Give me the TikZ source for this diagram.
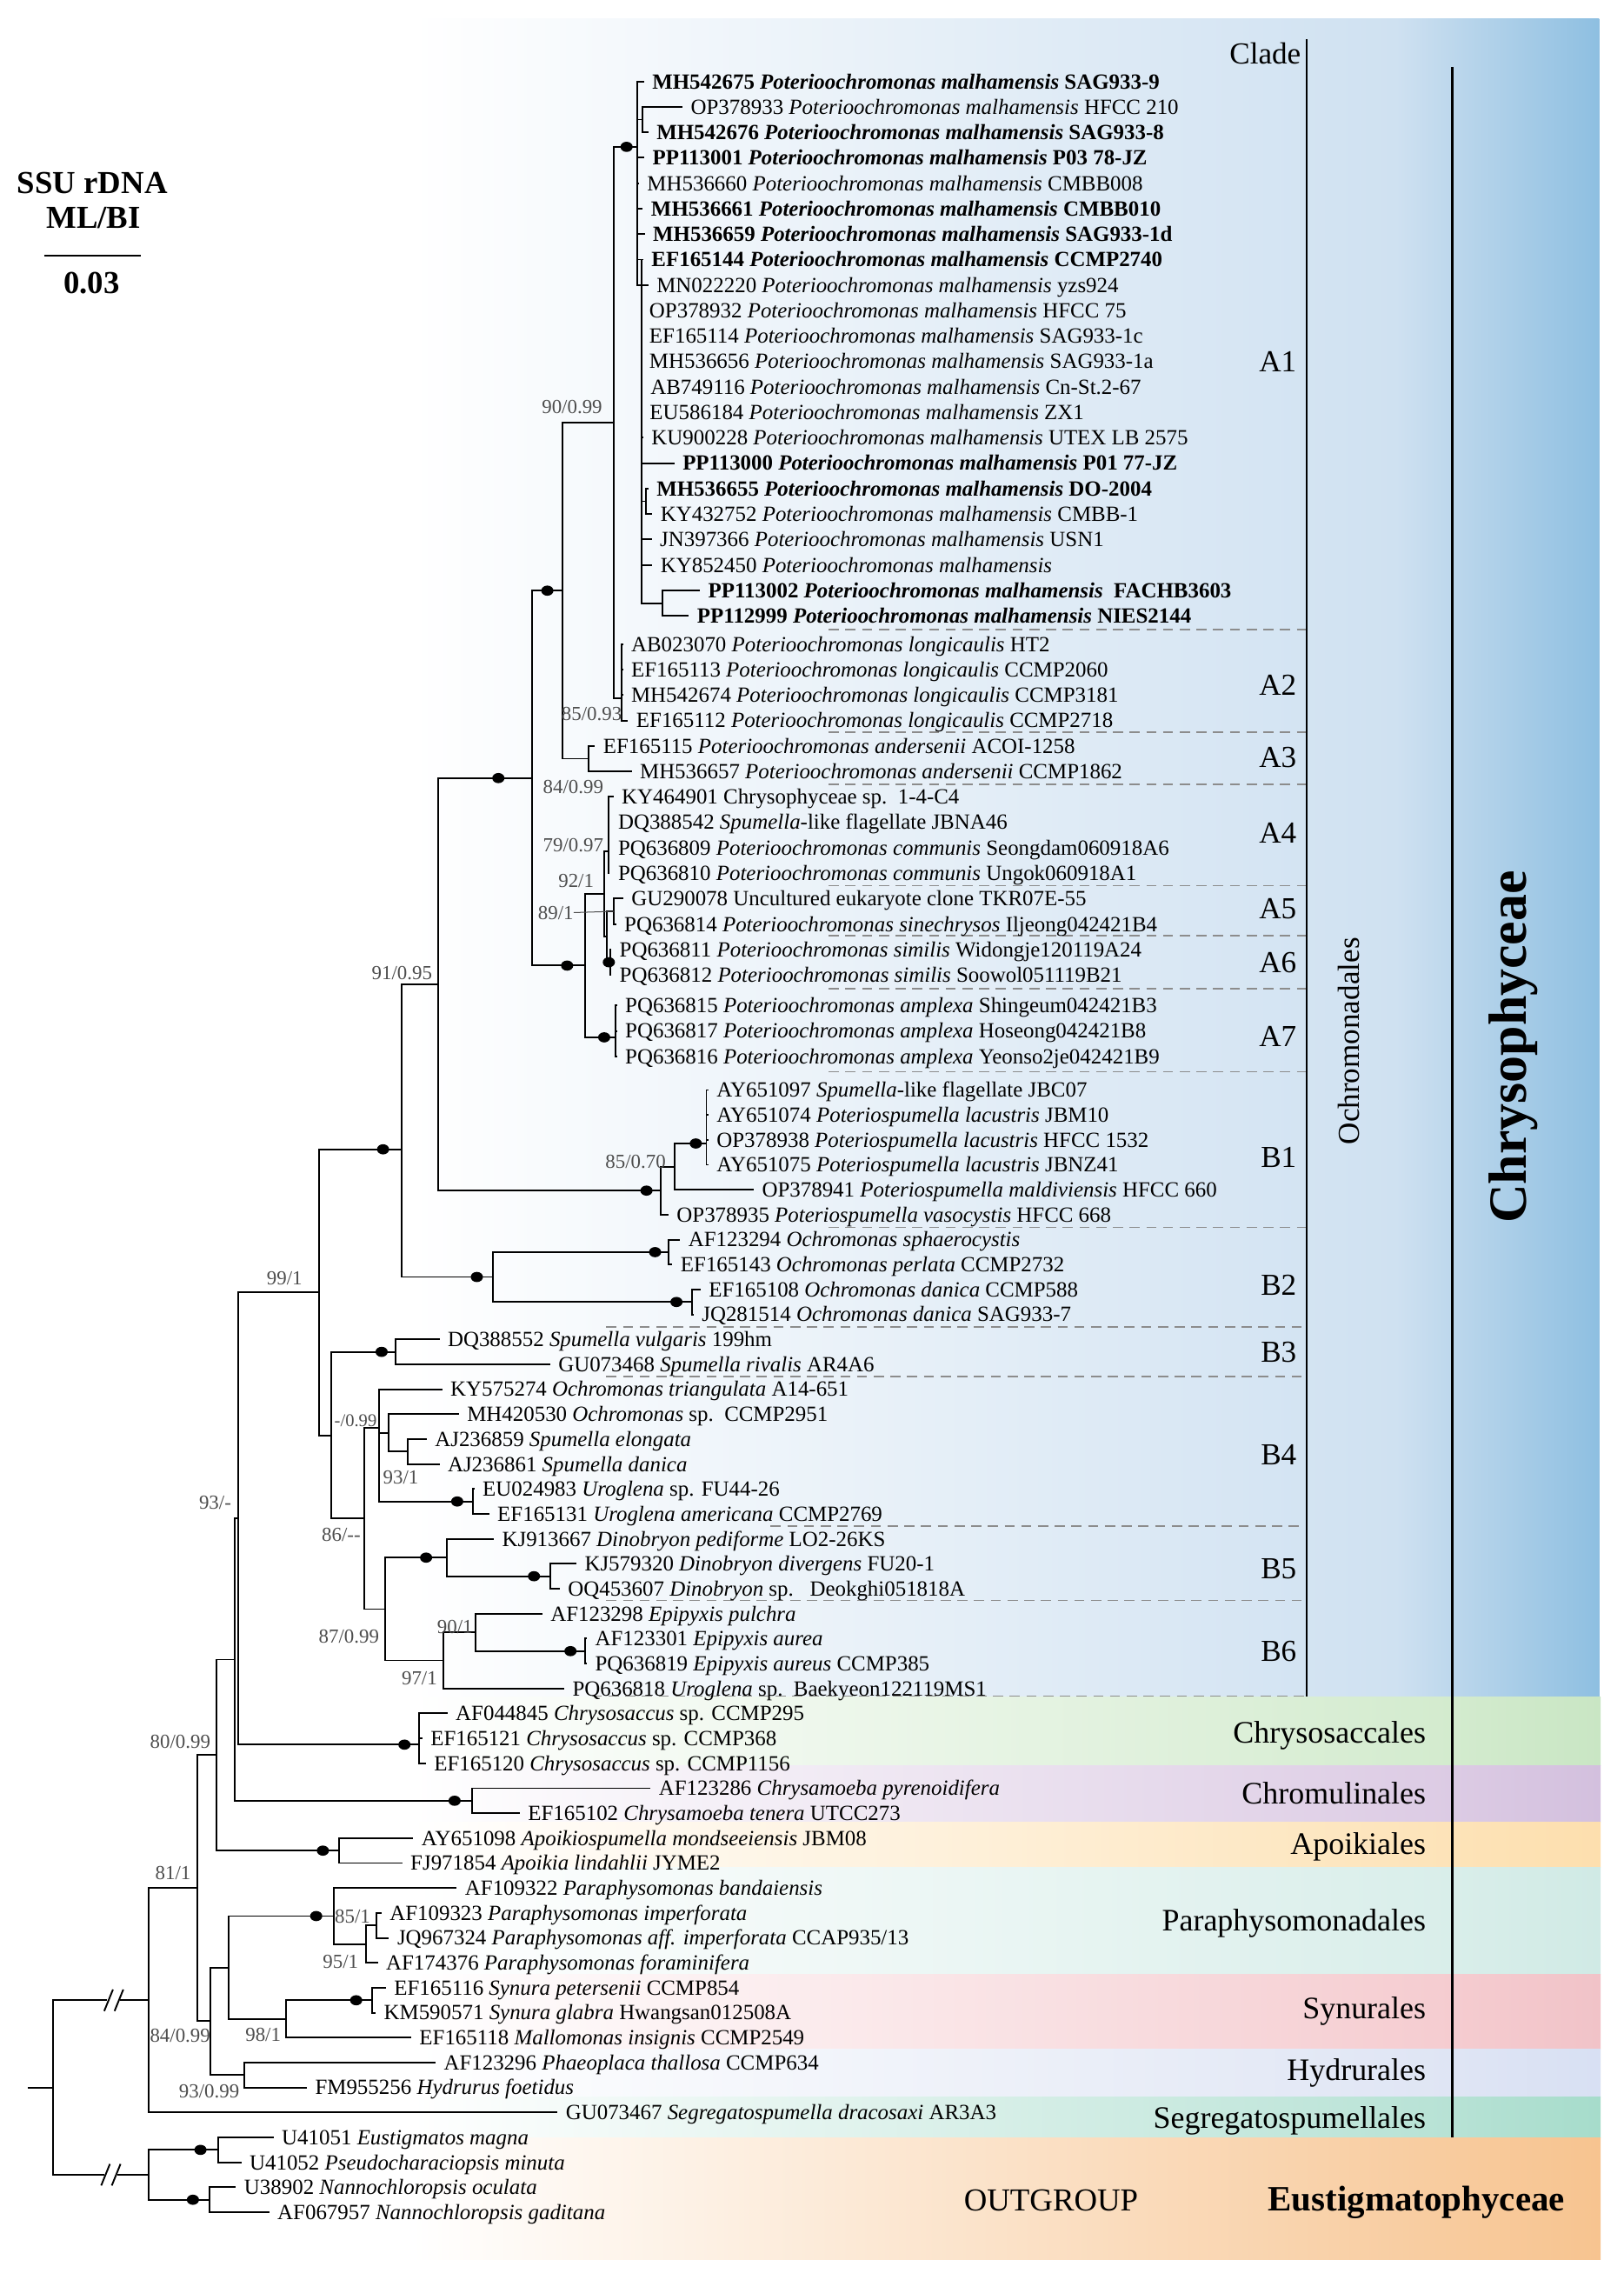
\documentclass[tikz,border=0pt]{standalone}
\usepackage{fontspec}
\setmainfont{Liberation Serif}
\usetikzlibrary{shapes.geometric}
\definecolor{supc}{HTML}{4D4D4D}
\definecolor{sepc}{HTML}{8C8C8C}
\definecolor{blueA}{HTML}{CFE1F1}
\definecolor{blueB}{HTML}{BCD7EC}
\definecolor{blueC}{HTML}{8EBFE1}
\definecolor{gA}{HTML}{D3EBCE}\definecolor{gB}{HTML}{C9E6C4}
\definecolor{pA}{HTML}{DCCBE4}\definecolor{pB}{HTML}{D3C0DE}
\definecolor{yA}{HTML}{FDE3B8}\definecolor{yB}{HTML}{FDDFAE}
\definecolor{tA}{HTML}{D9EEEA}\definecolor{tB}{HTML}{D0EAE5}
\definecolor{rA}{HTML}{F5CCD0}\definecolor{rB}{HTML}{F1C3C8}
\definecolor{hA}{HTML}{DFE5F4}\definecolor{hB}{HTML}{D8E0F3}
\definecolor{sA}{HTML}{B7E2D5}\definecolor{sB}{HTML}{A6DCCB}
\definecolor{oB}{HTML}{F7C490}
\newcommand{\fLeaf}{\fontsize{14.9pt}{17pt}\selectfont}
\newcommand{\fSup}{\fontsize{13.7pt}{16pt}\selectfont}
\newcommand{\fSupS}{\fontsize{12.3pt}{14pt}\selectfont}
\newcommand{\fClade}{\fontsize{21pt}{24pt}\selectfont}
\newcommand{\fOrd}{\fontsize{21.5pt}{24pt}\selectfont}
\newcommand{\fTtl}{\fontsize{22pt}{26pt}\selectfont}
\newcommand{\fBig}{\fontsize{37pt}{42pt}\selectfont}
\newcommand{\fEu}{\fontsize{24.5pt}{28pt}\selectfont}
\newcommand{\PM}{\textit{Poterioochromonas malhamensis}}
\newcommand{\tleaf}[5]{%
  \coordinate (t#1) at ({#3-5.5},#4);
  \node[lf] (l#1) at (#3,#4) {#5};
  \draw[br] (#2) |- (t#1);
}
\begin{document}
\begin{tikzpicture}[x=1pt,y=-1pt,
  br/.style={line width=1.15pt},
  lf/.style={anchor=west,inner sep=0pt,font=\fLeaf,text height=10pt,text depth=0pt},
  sup/.style={inner sep=0pt,font=\fSup,text=supc,text height=9pt,text depth=0pt},
  dotn/.style={ellipse,fill=black,draw=none,minimum width=8.4pt,minimum height=7pt,inner sep=0pt},
  clab/.style={anchor=east,inner sep=0pt,font=\fClade,text height=14pt,text depth=0pt},
  olab/.style={anchor=east,inner sep=0pt,font=\fOrd,text height=14.6pt,text depth=0pt},
  sepl/.style={draw=sepc,line width=0.9pt,dash pattern=on 7pt off 4.5pt},
]
\useasboundingbox (0,0) rectangle (1117,1568);
% ---------- backgrounds ----------
\shade[left color=white,right color=blueA] (283,12.7) rectangle (960.5,1167);
\shade[left color=blueA,right color=blueB] (960,12.7) rectangle (1000.5,1167);
\shade[left color=blueB,right color=blueC] (1000,12.7) rectangle (1100,1167);
\shade[left color=white,right color=gA] (283,1167) rectangle (1000.5,1214);
\shade[left color=gA,right color=gB] (1000,1167) rectangle (1101,1214);
\shade[left color=white,right color=pA] (283,1214) rectangle (1000.5,1253);
\shade[left color=pA,right color=pB] (1000,1214) rectangle (1101,1253);
\shade[left color=white,right color=yA] (283,1253) rectangle (1000.5,1284);
\shade[left color=yA,right color=yB] (1000,1253) rectangle (1101,1284);
\shade[left color=white,right color=tA] (283,1284) rectangle (1000.5,1358);
\shade[left color=tA,right color=tB] (1000,1284) rectangle (1101,1358);
\shade[left color=white,right color=rA] (283,1358) rectangle (1000.5,1409);
\shade[left color=rA,right color=rB] (1000,1358) rectangle (1101,1409);
\shade[left color=white,right color=hA] (283,1409) rectangle (1000.5,1442);
\shade[left color=hA,right color=hB] (1000,1409) rectangle (1101,1442);
\shade[left color=white,right color=sA] (283,1442) rectangle (1000.5,1470);
\shade[left color=sA,right color=sB] (1000,1442) rectangle (1101,1470);
\shade[left color=white,right color=oB] (283,1470) rectangle (1101,1554);
% ---------- clade separators ----------
\draw[sepl] (570,433) -- (898,433);
\draw[sepl] (570,503.5) -- (898,503.5);
\draw[sepl] (570,539.5) -- (898,539.5);
\draw[sepl] (570,609) -- (898,609);
\draw[sepl] (570,643.5) -- (898,643.5);
\draw[sepl] (570,680) -- (898,680);
\draw[sepl] (570,737) -- (898,737);
\draw[sepl] (570,844) -- (898,844);
\draw[sepl] (417,912.5) -- (898,912.5);
\draw[sepl] (417,946.5) -- (898,946.5);
\draw[sepl] (530,1049.5) -- (898,1049.5);
\draw[sepl] (417,1100.5) -- (898,1100.5);
\draw[sepl] (407,1166.5) -- (898,1166.5);
% ---------- vertical bars ----------
\coordinate (oc1) at (899,27); \coordinate (oc2) at (899,1167);
\draw[line width=1.4pt] (oc1) -- (oc2);
\coordinate (cb1) at (999,46); \coordinate (cb2) at (999,1470);
\draw[line width=2.2pt] (cb1) -- (cb2);
% ---------- internal nodes ----------
\coordinate (cA1) at (438.5,101);
\coordinate (cA1b) at (441.5,178.5);
\coordinate (nOP) at (442.1,82.25);
\coordinate (nMH) at (444.5,344.75);
\coordinate (nPP) at (455.5,414.75);
\coordinate (n90) at (422.2,290.6);
\coordinate (nA2) at (427.5,480.2);
\coordinate (nA3) at (405,521.75);
\coordinate (n387) at (387,406.2);
\coordinate (nA4) at (418.6,585.2);
\coordinate (nA5) at (422.2,626.75);
\coordinate (nA6) at (420,661.75);
\coordinate (nA56) at (417.6,644.25);
\coordinate (n415) at (415.6,614.7);
\coordinate (nA7) at (423.6,713.4);
\coordinate (nA47) at (402.6,664.05);
\coordinate (n365) at (365.8,535.1);
\coordinate (n300) at (301.6,677);
\coordinate (n486) at (485.9,786.4);
\coordinate (n464) at (464,802.3);
\coordinate (nB1) at (454.6,818.8);
\coordinate (nB2a) at (460,861.1);
\coordinate (nB2b) at (476,895.4);
\coordinate (nB2) at (338.9,878.2);
\coordinate (n91) at (276.1,790.4);
\coordinate (nB3) at (272.1,929.7);
\coordinate (n281) at (280.7,998.3);
\coordinate (n267) at (267.5,985.4);
\coordinate (nUro) at (325.1,1032.6);
\coordinate (nB4) at (260.7,982.2);
\coordinate (nDino) at (378.5,1084);
\coordinate (nB5) at (307.3,1071.2);
\coordinate (nEpi) at (402.6,1135.5);
\coordinate (n327) at (327,1122.6);
\coordinate (n305) at (305.1,1141.9);
\coordinate (n87) at (265.1,1106.6);
\coordinate (n86) at (250.8,1044.4);
\coordinate (n227) at (227.8,987.05);
\coordinate (n99) at (219.7,888.7);
\coordinate (nChs) at (288.3,1199.8);
\coordinate (n93) at (163.9,1044.25);
\coordinate (nChm) at (324.9,1238.4);
\coordinate (nX) at (161.5,1141.3);
\coordinate (nApo) at (233.4,1272.7);
\coordinate (n80) at (148.9,1207);
\coordinate (n259) at (258.7,1324.1);
\coordinate (n252) at (251.7,1337);
\coordinate (nPar) at (229.4,1317.7);
\coordinate (nSyn) at (255.7,1375.6);
\coordinate (nSyr) at (196.8,1388.4);
\coordinate (n157) at (157.1,1353.05);
\coordinate (nHyd) at (167.8,1427);
\coordinate (n84) at (144.9,1390);
\coordinate (n81) at (135.8,1298.5);
\coordinate (nChr) at (102.2,1375.6);
\coordinate (nEu) at (150.1,1478.5);
\coordinate (nNan) at (144,1512.8);
\coordinate (nOut) at (102.2,1495.6);
\coordinate (root) at (36.6,1435.6);
\coordinate (rs) at (19,1435.6);
% ---------- internal edges ----------
\draw[br] (cA1) |- (nOP);
\draw[br] (cA1) |- (cA1b);
\draw[br] (cA1b) |- (nMH);
\draw[br] (cA1b) |- (nPP);
\draw[br] (n90) |- (cA1);
\draw[br] (n90) |- (nA2);
\draw[br] (n387) |- (n90);
\draw[br] (n387) |- (nA3);
\draw[br] (n365) |- (n387);
\draw[br] (n365) |- (nA47);
\draw[br] (nA47) |- (n415);
\draw[br] (nA47) |- (nA7);
\draw[br] (n415) |- (nA4);
\draw[br] (n415) |- (nA56);
\draw[br] (nA56) |- (nA5);
\draw[br] (nA56) |- (nA6);
\draw[br] (n300) |- (n365);
\draw[br] (n300) |- (nB1);
\draw[br] (nB1) |- (n464);
\draw[br] (n464) |- (n486);
\draw[br] (n91) |- (n300);
\draw[br] (n91) |- (nB2);
\draw[br] (nB2) |- (nB2a);
\draw[br] (nB2) |- (nB2b);
\draw[br] (n99) |- (n91);
\draw[br] (n99) |- (n227);
\draw[br] (n227) |- (nB3);
\draw[br] (n227) |- (n86);
\draw[br] (n86) |- (nB4);
\draw[br] (n86) |- (n87);
\draw[br] (nB4) |- (n267);
\draw[br] (nB4) |- (nUro);
\draw[br] (n267) |- (n281);
\draw[br] (n87) |- (nB5);
\draw[br] (n87) |- (n305);
\draw[br] (nB5) |- (nDino);
\draw[br] (n305) |- (n327);
\draw[br] (n327) |- (nEpi);
\draw[br] (n93) |- (n99);
\draw[br] (n93) |- (nChs);
\draw[br] (nX) |- (n93);
\draw[br] (nX) |- (nChm);
\draw[br] (n80) |- (nX);
\draw[br] (n80) |- (nApo);
\draw[br] (n81) |- (n80);
\draw[br] (n81) |- (n84);
\draw[br] (n84) |- (n157);
\draw[br] (n84) |- (nHyd);
\draw[br] (n157) |- (nPar);
\draw[br] (n157) |- (nSyr);
\draw[br] (nPar) |- (n252);
\draw[br] (n252) |- (n259);
\draw[br] (nSyr) |- (nSyn);
\draw[br] (nChr) |- (n81);
\draw[br] (nOut) |- (nEu);
\draw[br] (nOut) |- (nNan);
\draw[br] (rs) -- (root);
\coordinate (bu1) at (73.7,1375.6); \coordinate (bu2) at (82.8,1375.6);
\coordinate (bl1) at (71.6,1495.6); \coordinate (bl2) at (81,1495.6);
\draw[br] (root) |- (bu1);
\draw[br] (bu2) -- (nChr);
\draw[br] (root) |- (bl1);
\draw[br] (bl2) -- (nOut);
\draw[br] (71.7,1383) -- (77.7,1368.2);
\draw[br] (78.8,1383) -- (84.8,1368.2);
\draw[br] (69.6,1503) -- (75.6,1488.2);
\draw[br] (76.9,1503) -- (82.9,1488.2);
% ---------- leaves ----------
\tleaf{1}{cA1}{448.5}{56}{\textbf{MH542675 \PM{} SAG933-9}}
\tleaf{2}{nOP}{475}{73.5}{OP378933 \PM{} HFCC 210}
\tleaf{3}{nOP}{451.5}{91}{\textbf{MH542676 \PM{} SAG933-8}}
\tleaf{4}{cA1}{448.7}{108.5}{\textbf{PP113001 \PM{} P03 78-JZ}}
\tleaf{5}{cA1}{445}{126}{MH536660 \PM{} CMBB008}
\tleaf{6}{cA1}{447.7}{143.5}{\textbf{MH536661 \PM{} CMBB010}}
\tleaf{7}{cA1}{449}{161}{\textbf{MH536659 \PM{} SAG933-1d}}
\tleaf{8}{cA1}{448}{178.5}{\textbf{EF165144 \PM{} CCMP2740}}
\tleaf{9}{cA1}{451.5}{196}{MN022220 \PM{} yzs924}
\tleaf{10}{cA1b}{446.5}{213.5}{OP378932 \PM{} HFCC 75}
\tleaf{11}{cA1b}{446.5}{231}{EF165114 \PM{} SAG933-1c}
\tleaf{12}{cA1b}{446.5}{248.5}{MH536656 \PM{} SAG933-1a}
\tleaf{13}{cA1b}{447.3}{266}{AB749116 \PM{} Cn-St.2-67}
\tleaf{14}{cA1b}{446.8}{283.5}{EU586184 \PM{} ZX1}
\tleaf{15}{cA1b}{448}{301}{KU900228 \PM{} UTEX LB 2575}
\tleaf{16}{cA1b}{469.4}{318.5}{\textbf{PP113000 \PM{} P01 77-JZ}}
\tleaf{17}{nMH}{451.5}{336}{\textbf{MH536655 \PM{} DO-2004}}
\tleaf{18}{nMH}{454.2}{353.5}{KY432752 \PM{} CMBB-1}
\tleaf{19}{cA1b}{453.8}{371}{JN397366 \PM{} USN1}
\tleaf{20}{cA1b}{454.2}{388.5}{KY852450 \PM}
\tleaf{21}{nPP}{487}{406}{\textbf{PP113002 \PM{}\ \ FACHB3603}}
\tleaf{22}{nPP}{479.4}{423.5}{\textbf{PP112999 \PM{} NIES2144}}
\tleaf{23}{nA2}{434}{443}{AB023070 \textit{Poterioochromonas longicaulis} HT2}
\tleaf{24}{nA2}{434}{460.5}{EF165113 \textit{Poterioochromonas longicaulis} CCMP2060}
\tleaf{25}{nA2}{434}{478}{MH542674 \textit{Poterioochromonas longicaulis} CCMP3181}
\tleaf{26}{nA2}{437.5}{495.5}{EF165112 \textit{Poterioochromonas longicaulis} CCMP2718}
\tleaf{27}{nA3}{414.7}{513}{EF165115 \textit{Poterioochromonas andersenii} ACOI-1258}
\tleaf{28}{nA3}{440}{530.5}{MH536657 \textit{Poterioochromonas andersenii} CCMP1862}
\tleaf{29}{nA4}{427.5}{548}{KY464901 Chrysophyceae sp.\ \ 1-4-C4}
\tleaf{30}{nA4}{425}{565.5}{DQ388542 \textit{Spumella}-like flagellate JBNA46}
\tleaf{31}{nA4}{425}{583}{PQ636809 \textit{Poterioochromonas communis} Seongdam060918A6}
\tleaf{32}{nA4}{425}{600.5}{PQ636810 \textit{Poterioochromonas communis} Ungok060918A1}
\tleaf{33}{nA5}{434.2}{618}{GU290078 Uncultured eukaryote clone TKR07E-55}
\tleaf{34}{nA5}{429.3}{635.5}{PQ636814 \textit{Poterioochromonas sinechrysos} Iljeong042421B4}
\tleaf{35}{nA6}{426}{653}{PQ636811 \textit{Poterioochromonas similis} Widongje120119A24}
\tleaf{36}{nA6}{426}{670.5}{PQ636812 \textit{Poterioochromonas similis} Soowol051119B21}
\tleaf{37}{nA7}{429.9}{691.5}{PQ636815 \textit{Poterioochromonas amplexa} Shingeum042421B3}
\tleaf{38}{nA7}{429.9}{709}{PQ636817 \textit{Poterioochromonas amplexa} Hoseong042421B8}
\tleaf{39}{nA7}{429.9}{726.5}{PQ636816 \textit{Poterioochromonas amplexa} Yeonso2je042421B9}
\tleaf{40}{n486}{492.8}{749.6}{AY651097 \textit{Spumella}-like flagellate JBC07}
\tleaf{41}{n486}{492.8}{766.75}{AY651074 \textit{Poteriospumella lacustris} JBM10}
\tleaf{42}{n486}{492.8}{783.9}{OP378938 \textit{Poteriospumella lacustris} HFCC 1532}
\tleaf{43}{n486}{492.8}{801.05}{AY651075 \textit{Poteriospumella lacustris} JBNZ41}
\tleaf{44}{n464}{524}{818.2}{OP378941 \textit{Poteriospumella maldiviensis} HFCC 660}
\tleaf{45}{nB1}{465.3}{835.35}{OP378935 \textit{Poteriospumella vasocystis} HFCC 668}
\tleaf{46}{nB2a}{473.3}{852.5}{AF123294 \textit{Ochromonas sphaerocystis}}
\tleaf{47}{nB2a}{468}{869.65}{EF165143 \textit{Ochromonas perlata} CCMP2732}
\tleaf{48}{nB2b}{487.4}{886.8}{EF165108 \textit{Ochromonas danica} CCMP588}
\tleaf{49}{nB2b}{482.6}{903.95}{JQ281514 \textit{Ochromonas danica} SAG933-7}
\tleaf{50}{nB3}{307.8}{921.1}{DQ388552 \textit{Spumella vulgaris} 199hm}
\tleaf{51}{nB3}{383.9}{938.25}{GU073468 \textit{Spumella rivalis} AR4A6}
\tleaf{52}{nB4}{309.7}{955.4}{KY575274 \textit{Ochromonas triangulata} A14-651}
\tleaf{53}{n267}{321.1}{972.55}{MH420530 \textit{Ochromonas} sp.\ \ CCMP2951}
\tleaf{54}{n281}{299}{989.7}{AJ236859 \textit{Spumella elongata}}
\tleaf{55}{n281}{307.8}{1006.85}{AJ236861 \textit{Spumella danica}}
\tleaf{56}{nUro}{331.8}{1024}{EU024983 \textit{Uroglena} sp. FU44-26}
\tleaf{57}{nUro}{342}{1041.15}{EF165131 \textit{Uroglena americana} CCMP2769}
\tleaf{58}{nB5}{345.2}{1058.3}{KJ913667 \textit{Dinobryon pediforme} LO2-26KS}
\tleaf{59}{nDino}{402}{1075.45}{KJ579320 \textit{Dinobryon divergens} FU20-1}
\tleaf{60}{nDino}{390.5}{1092.6}{OQ453607 \textit{Dinobryon} sp.\ \ \ Deokghi051818A}
\tleaf{61}{n327}{378.5}{1109.75}{AF123298 \textit{Epipyxis pulchra}}
\tleaf{62}{nEpi}{409.2}{1126.9}{AF123301 \textit{Epipyxis aurea}}
\tleaf{63}{nEpi}{409.2}{1144.05}{PQ636819 \textit{Epipyxis aureus} CCMP385}
\tleaf{64}{n305}{393.6}{1161.2}{PQ636818 \textit{Uroglena} sp.\ \ Baekyeon122119MS1}
\tleaf{65}{nChs}{313.3}{1178.35}{AF044845 \textit{Chrysosaccus} sp. CCMP295}
\tleaf{66}{nChs}{296}{1195.5}{EF165121 \textit{Chrysosaccus} sp. CCMP368}
\tleaf{67}{nChs}{298.4}{1212.65}{EF165120 \textit{Chrysosaccus} sp. CCMP1156}
\tleaf{68}{nChm}{453}{1229.8}{AF123286 \textit{Chrysamoeba pyrenoidifera}}
\tleaf{69}{nChm}{363}{1246.95}{EF165102 \textit{Chrysamoeba tenera} UTCC273}
\tleaf{70}{nApo}{289.8}{1264.1}{AY651098 \textit{Apoikiospumella mondseeiensis} JBM08}
\tleaf{71}{nApo}{282.2}{1281.25}{FJ971854 \textit{Apoikia lindahlii} JYME2}
\tleaf{72}{nPar}{319.7}{1298.4}{AF109322 \textit{Paraphysomonas bandaiensis}}
\tleaf{73}{n259}{267.9}{1315.55}{AF109323 \textit{Paraphysomonas imperforata}}
\tleaf{74}{n259}{273.1}{1332.7}{JQ967324 \textit{Paraphysomonas aff. imperforata} CCAP935/13}
\tleaf{75}{n252}{265.4}{1349.85}{AF174376 \textit{Paraphysomonas foraminifera}}
\tleaf{76}{nSyn}{270.9}{1367}{EF165116 \textit{Synura petersenii} CCMP854}
\tleaf{77}{nSyn}{263.9}{1384.15}{KM590571 \textit{Synura glabra} Hwangsan012508A}
\tleaf{78}{nSyr}{288.3}{1401.3}{EF165118 \textit{Mallomonas insignis} CCMP2549}
\tleaf{79}{nHyd}{305.1}{1418.45}{AF123296 \textit{Phaeoplaca thallosa} CCMP634}
\tleaf{80}{nHyd}{216.6}{1435.6}{FM955256 \textit{Hydrurus foetidus}}
\tleaf{81}{nChr}{389}{1452.75}{GU073467 \textit{Segregatospumella dracosaxi} AR3A3}
\tleaf{82}{nEu}{193.7}{1469.9}{U41051 \textit{Eustigmatos magna}}
\tleaf{83}{nEu}{171.5}{1487.05}{U41052 \textit{Pseudocharaciopsis minuta}}
\tleaf{84}{nNan}{167.8}{1504.2}{U38902 \textit{Nannochloropsis oculata}}
\tleaf{85}{nNan}{190.7}{1521.35}{AF067957 \textit{Nannochloropsis gaditana}}
% ---------- node dots ----------
\node[dotn] (d1) at (431,101) {};
\node[dotn] (d2) at (376.5,406.2) {};
\node[dotn] (d3) at (342.8,535.1) {};
\node[dotn] (d4) at (390.1,664.05) {};
\node[dotn] (d5) at (418.8,661.75) {};
\node[dotn] (d6) at (415.6,713.4) {};
\node[dotn] (d7) at (263.5,790.4) {};
\node[dotn] (d8) at (444.7,818.8) {};
\node[dotn] (d9) at (478.6,786.4) {};
\node[dotn] (d10) at (328,878.2) {};
\node[dotn] (d11) at (450.6,861.1) {};
\node[dotn] (d12) at (465.3,895.4) {};
\node[dotn] (d13) at (262.5,929.7) {};
\node[dotn] (d14) at (314.5,1032.6) {};
\node[dotn] (d15) at (293.1,1071.2) {};
\node[dotn] (d16) at (367.3,1084) {};
\node[dotn] (d17) at (392.4,1135.5) {};
\node[dotn] (d18) at (278.2,1199.8) {};
\node[dotn] (d19) at (312.7,1238.4) {};
\node[dotn] (d20) at (222.1,1272.7) {};
\node[dotn] (d21) at (217.5,1317.7) {};
\node[dotn] (d22) at (245,1375.6) {};
\node[dotn] (d23) at (137.9,1478.5) {};
\node[dotn] (d24) at (132.7,1512.8) {};
% ---------- support values ----------
\node[sup] (s1) at (393.5,280) {90/0.99};
\node[sup] (s2) at (407,491) {85/0.93};
\node[sup] (s3) at (394.3,541.2) {84/0.99};
\node[sup] (s4) at (394.3,581) {79/0.97};
\node[sup] (s5) at (396.3,606) {92/1};
\node[sup] (s6) at (382.3,627.6) {89/1};
\draw[line width=0.6pt,draw=supc] (s6.east) -- (nA5);
\node[sup] (s7) at (276.5,669.4) {91/0.95};
\node[sup] (s8) at (437.2,798.7) {85/0.70};
\node[sup] (s9) at (195.7,879) {99/1};
\node[sup,font=\fSupS] (s10) at (244.6,976.8) {-/0.99};
\node[sup] (s11) at (275.7,1016) {93/1};
\node[sup] (s12) at (234.7,1055.5) {86/-{}-};
\node[sup] (s13) at (148,1033.5) {93/-};
\node[sup] (s14) at (240,1125.2) {87/0.99};
\node[sup] (s15) at (312.9,1119) {90/1};
\node[sup] (s16) at (288.5,1154.3) {97/1};
\node[sup] (s17) at (124,1197.5) {80/0.99};
\node[sup] (s18) at (119,1288.2) {81/1};
\node[sup] (s19) at (242.5,1318.2) {85/1};
\node[sup] (s20) at (234.3,1349) {95/1};
\node[sup] (s21) at (181,1399.2) {98/1};
\node[sup] (s22) at (123.9,1399.8) {84/0.99};
\node[sup] (s23) at (143.9,1438.3) {93/0.99};
% ---------- clade labels ----------
\node[clab] (cl0) at (895,37) {Clade};
\node[clab] (clA1) at (892,248.6) {A1};
\node[clab] (clA2) at (892,471) {A2};
\node[clab] (clA3) at (892,520.6) {A3};
\node[clab] (clA4) at (892,572.7) {A4};
\node[clab] (clA5) at (892,624.7) {A5};
\node[clab] (clA6) at (892,661.9) {A6};
\node[clab] (clA7) at (892,713) {A7};
\node[clab] (clB1) at (892,795.8) {B1};
\node[clab] (clB2) at (892,883.5) {B2};
\node[clab] (clB3) at (892,929.6) {B3};
\node[clab] (clB4) at (892,1000.6) {B4};
\node[clab] (clB5) at (892,1078.4) {B5};
\node[clab] (clB6) at (892,1135.4) {B6};
\node[rotate=90,inner sep=0pt,font=\fClade] (ochr) at (928,716) {Ochromonadales};
\node[rotate=90,inner sep=0pt,font=\fBig\bfseries] (chry) at (1041,720) {Chrysophyceae};
% ---------- order labels ----------
\node[olab] (o1) at (981,1191.6) {Chrysosaccales};
\node[olab] (o2) at (981,1233.4) {Chromulinales};
\node[olab] (o3) at (981,1268.2) {Apoikiales};
\node[olab] (o4) at (981,1320.6) {Paraphysomonadales};
\node[olab] (o5) at (981,1380.7) {Synurales};
\node[olab] (o6) at (981,1423.4) {Hydrurales};
\node[olab] (o7) at (981,1456.6) {Segregatospumellales};
\node[inner sep=0pt,font=\fTtl,text height=15pt,text depth=0pt] (og) at (723,1513) {OUTGROUP};
\node[inner sep=0pt,font=\fEu\bfseries,text height=16.6pt,text depth=0pt] (eu) at (974.3,1512) {Eustigmatophyceae};
% ---------- title & scale ----------
\node[inner sep=0pt,font=\fTtl\bfseries,text height=15pt,text depth=0pt] (ttl1) at (63.6,125.6) {SSU rDNA};
\node[inner sep=0pt,font=\fTtl\bfseries,text height=15pt,text depth=0pt] (ttl2) at (64.3,149.5) {ML/BI};
\coordinate (sb1) at (30.3,175.8); \coordinate (sb2) at (96.7,175.8);
\draw[line width=1.6pt] (sb1) -- (sb2);
\node[inner sep=0pt,font=\fTtl\bfseries,text height=15pt,text depth=0pt] (ttl3) at (63,194.3) {0.03};
\end{tikzpicture}
\end{document}
